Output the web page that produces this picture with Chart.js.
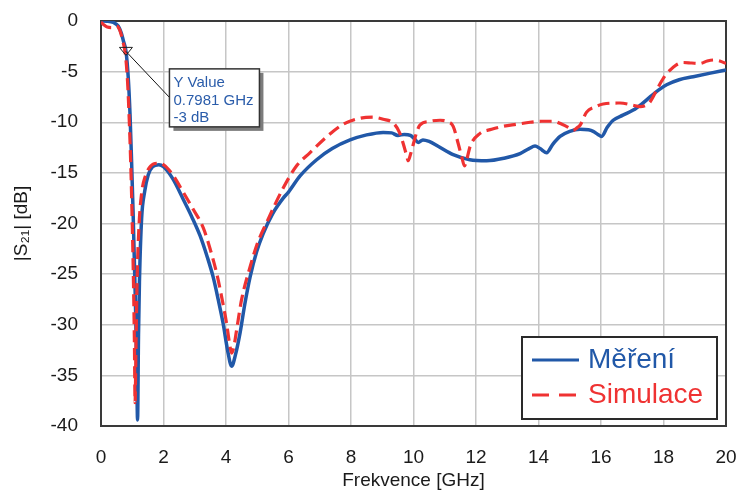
<!DOCTYPE html>
<html>
<head>
<meta charset="utf-8">
<script src="https://cdn.jsdelivr.net/npm/chart.js@4.4.1/dist/chart.umd.min.js"></script>
<style>
  html, body { margin: 0; padding: 0; background: #ffffff; }
  #wrap { width: 739px; height: 491px; }
</style>
</head>
<body>
<div id="wrap"><canvas id="c" width="739" height="491"></canvas></div>
<script>
// Measured transmission |S21| (GHz, dB)
const measFreq = [0, 0.2, 0.4, 0.55, 0.65, 0.72, 0.8, 0.87, 0.93, 0.98, 1.03, 1.07, 1.11, 1.14, 1.17,
  1.2, 1.23, 1.3, 1.4, 1.51, 1.65, 1.85, 2.0, 2.3, 2.63, 2.9, 3.17, 3.4, 3.59, 3.75, 3.91, 4.05, 4.18,
  4.3, 4.45, 4.6, 4.77, 4.98, 5.19, 5.5, 5.83, 6.0, 6.37, 6.9, 7.4, 7.97, 8.5, 9.03, 9.3, 9.5, 9.7,
  9.9, 10.05, 10.15, 10.3, 10.5, 10.8, 11.27, 11.8, 12.34, 12.9, 13.41, 13.7, 13.89, 14.05, 14.26,
  14.45, 14.69, 15.0, 15.33, 15.6, 15.75, 15.9, 16.02, 16.2, 16.39, 16.7, 17.03, 17.3, 17.57, 17.85,
  18.1, 18.5, 18.95, 19.5, 20.0];
const measDb = [0, -0.02, -0.15, -0.5, -1.2, -2.0, -3.0, -5.5, -9.3, -14, -19.2, -24, -29, -34, -39.4,
  -31, -25.8, -19.5, -16.8, -15.2, -14.4, -14.2, -14.4, -15.6, -17.6, -19.3, -21.2, -23.3, -25.3, -27.5,
  -29.9, -32.5, -34.1, -33.0, -30.8, -28.0, -25.3, -22.8, -21.0, -19.0, -17.5, -16.9, -15.3, -13.7,
  -12.6, -11.75, -11.25, -11.0, -11.05, -11.3, -11.2, -11.3, -11.7, -12.0, -11.75, -11.9, -12.4, -13.2,
  -13.7, -13.8, -13.55, -13.1, -12.6, -12.35, -12.6, -13.0, -12.2, -11.4, -10.9, -10.7, -10.75, -10.9,
  -11.2, -11.4, -10.5, -9.8, -9.3, -8.8, -8.2, -7.5, -6.8, -6.3, -5.8, -5.5, -5.15, -4.84];

// Simulated transmission |S21| (GHz, dB)
const simFreq = [0, 0.1, 0.2, 0.35, 0.5, 0.6, 0.7, 0.78, 0.85, 0.9, 0.96, 1.0, 1.04, 1.07, 1.09, 1.12,
  1.16, 1.22, 1.3, 1.42, 1.6, 1.78, 2.0, 2.3, 2.63, 2.95, 3.27, 3.5, 3.7, 3.87, 4.02, 4.12, 4.18, 4.25,
  4.34, 4.5, 4.77, 5.0, 5.3, 5.83, 6.26, 6.69, 7.2, 7.75, 8.29, 8.7, 9.03, 9.36, 9.55, 9.67, 9.78, 9.83,
  9.9, 10.0, 10.1, 10.2, 10.53, 10.85, 11.1, 11.27, 11.43, 11.55, 11.63, 11.72, 11.81, 12.13, 12.5,
  12.87, 13.3, 13.73, 14.1, 14.47, 14.75, 14.95, 15.11, 15.25, 15.33, 15.54, 15.8, 16.07, 16.61, 17.0,
  17.25, 17.45, 17.57, 17.75, 17.89, 18.05, 18.21, 18.4, 18.63, 18.9, 19.17, 19.4, 19.6, 19.8, 20.0];
const simDb = [-0.1, -0.4, -0.6, -0.65, -0.5, -0.9, -2.0, -3.3, -6, -9.5, -15, -20, -26, -32, -37.7, -32,
  -25, -20, -17, -15.3, -14.3, -14.05, -14.2, -15.2, -16.9, -18.6, -20.4, -22.6, -24.9, -27.4, -29.9,
  -32, -32.8, -32.2, -30.5, -27.5, -24.3, -22.0, -19.9, -16.5, -14.3, -13.0, -11.5, -10.2, -9.6, -9.5,
  -9.7, -10.1, -11.0, -12.1, -13.3, -13.8, -13.2, -12.1, -11.0, -10.3, -9.9, -9.8, -9.95, -10.4, -12.1,
  -13.5, -14.3, -13.5, -12.4, -11.1, -10.7, -10.4, -10.2, -10.0, -9.9, -9.9, -10.2, -10.5, -10.8, -10.5,
  -10.3, -9.0, -8.5, -8.2, -8.1, -8.3, -8.45, -8.3, -8.0, -7.0, -6.2, -5.4, -4.85, -4.35, -4.1, -4.15,
  -4.2, -3.95, -3.85, -3.95, -4.2];

const seriesNames = ['Měření', 'Simulace'];
const markerLabel = 'Y Value';
const markerFreq = 0.7981;
const markerDb = -3;

const BLUE = '#2158a8';
const RED = '#ef3232';
const FONT = "'Liberation Sans', Arial, sans-serif";

const toPoints = (xs, ys) => xs.map((x, i) => ({ x, y: ys[i] }));

// Dark frame around the plot area, under the curves
const framePlugin = {
  id: 'frame',
  beforeDatasetsDraw(chart) {
    const { ctx, chartArea: a } = chart;
    ctx.save();
    ctx.strokeStyle = '#3a3a3a';
    ctx.lineWidth = 2;
    ctx.strokeRect(a.left, a.top, a.right - a.left, a.bottom - a.top);
    ctx.restore();
  }
};

// -3 dB marker with its callout box
const markerPlugin = {
  id: 'marker',
  afterDatasetsDraw(chart) {
    const { ctx, scales } = chart;
    const px = scales.x.getPixelForValue(markerFreq);
    const py = scales.y.getPixelForValue(markerDb);
    ctx.save();
    // leader line
    ctx.strokeStyle = '#111';
    ctx.lineWidth = 1;
    ctx.beginPath();
    ctx.moveTo(px, py);
    ctx.lineTo(px + 43.5, py + 46);
    ctx.stroke();
    // hollow inverted triangle
    ctx.beginPath();
    ctx.moveTo(px - 6.5, py - 4);
    ctx.lineTo(px + 6.5, py - 4);
    ctx.lineTo(px, py + 4);
    ctx.closePath();
    ctx.strokeStyle = '#222';
    ctx.stroke();
    // callout box
    const bx = px + 43.5, by = py + 17.5, bw = 90, bh = 58;
    ctx.fillStyle = '#7c7c7c';
    ctx.fillRect(bx + 4, by + 4, bw, bh);
    ctx.fillStyle = '#ffffff';
    ctx.fillRect(bx, by, bw, bh);
    ctx.strokeStyle = '#333';
    ctx.lineWidth = 1.5;
    ctx.strokeRect(bx, by, bw, bh);
    ctx.fillStyle = '#2a5caa';
    ctx.font = '15px ' + FONT;
    ctx.textBaseline = 'alphabetic';
    ctx.textAlign = 'left';
    ctx.fillText(markerLabel, bx + 4, by + 18);
    ctx.fillText(markerFreq + ' GHz', bx + 4, by + 36);
    ctx.fillText(markerDb + ' dB', bx + 4, by + 53);
    ctx.restore();
  }
};

// Boxed legend in the lower right corner of the plot
const boxLegendPlugin = {
  id: 'boxLegend',
  afterDraw(chart) {
    const { ctx, chartArea: a } = chart;
    const w = 195, h = 82;
    const x = a.right - 9 - w, y = a.bottom - 7 - h;
    ctx.save();
    ctx.fillStyle = '#ffffff';
    ctx.fillRect(x, y, w, h);
    ctx.strokeStyle = '#2a2a2a';
    ctx.lineWidth = 2;
    ctx.strokeRect(x, y, w, h);
    const rows = [23, 58];
    const bases = [31, 66];
    chart.data.datasets.slice(0, 2).forEach((ds, i) => {
      ctx.strokeStyle = ds.borderColor;
      ctx.lineWidth = 3;
      ctx.setLineDash(ds.borderDash ? [17, 10] : []);
      ctx.beginPath();
      ctx.moveTo(x + 10, y + rows[i]);
      ctx.lineTo(x + 57, y + rows[i]);
      ctx.stroke();
      ctx.setLineDash([]);
      ctx.fillStyle = ds.borderColor;
      ctx.font = '28px ' + FONT;
      ctx.textBaseline = 'alphabetic';
      ctx.fillText(ds.label, x + 66, y + bases[i]);
    });
    ctx.restore();
  }
};

new Chart(document.getElementById('c'), {
  type: 'line',
  data: {
    datasets: [
      {
        label: seriesNames[0],
        data: toPoints(measFreq, measDb),
        borderColor: BLUE,
        borderWidth: 3.5,
        pointRadius: 0,
        cubicInterpolationMode: 'monotone',
        fill: false,
        order: 1
      },
      {
        label: seriesNames[1],
        data: toPoints(simFreq, simDb),
        borderColor: RED,
        borderWidth: 3.2,
        borderDash: [12, 6],
        pointRadius: 0,
        cubicInterpolationMode: 'monotone',
        fill: false,
        order: 0
      }
    ]
  },
  options: {
    responsive: false,
    animation: false,
    devicePixelRatio: 1,
    layout: { padding: { top: 21, right: 13, bottom: 0, left: 0 } },
    plugins: { legend: { display: false }, tooltip: { enabled: false } },
    scales: {
      x: {
        type: 'linear',
        min: 0,
        max: 20,
        afterFit: s => { s.height = 65; },
        ticks: { stepSize: 2, color: '#1a1a1a', font: { family: FONT, size: 19 }, padding: 2, maxRotation: 0 },
        grid: { color: '#c6c6c6', lineWidth: 1.5, drawTicks: true, tickLength: 18, tickColor: 'rgba(0,0,0,0)' },
        border: { display: false },
        title: { display: true, text: 'Frekvence [GHz]', color: '#1a1a1a',
                 font: { family: FONT, size: 19, lineHeight: 1 }, padding: { top: 0, bottom: 1 } }
      },
      y: {
        type: 'linear',
        min: -40,
        max: 0,
        afterFit: s => { s.width = 101; },
        ticks: { stepSize: 5, color: '#1a1a1a', font: { family: FONT, size: 19 }, padding: 3 },
        grid: { color: '#c6c6c6', lineWidth: 1.5, drawTicks: true, tickLength: 20, tickColor: 'rgba(0,0,0,0)' },
        border: { display: false },
        title: { display: true, text: '|S₂₁| [dB]', color: '#1a1a1a',
                 font: { family: FONT, size: 19, lineHeight: 1.2 }, padding: { top: 10, bottom: 0 } }
      }
    }
  },
  plugins: [framePlugin, markerPlugin, boxLegendPlugin]
});
</script>
</body>
</html>
